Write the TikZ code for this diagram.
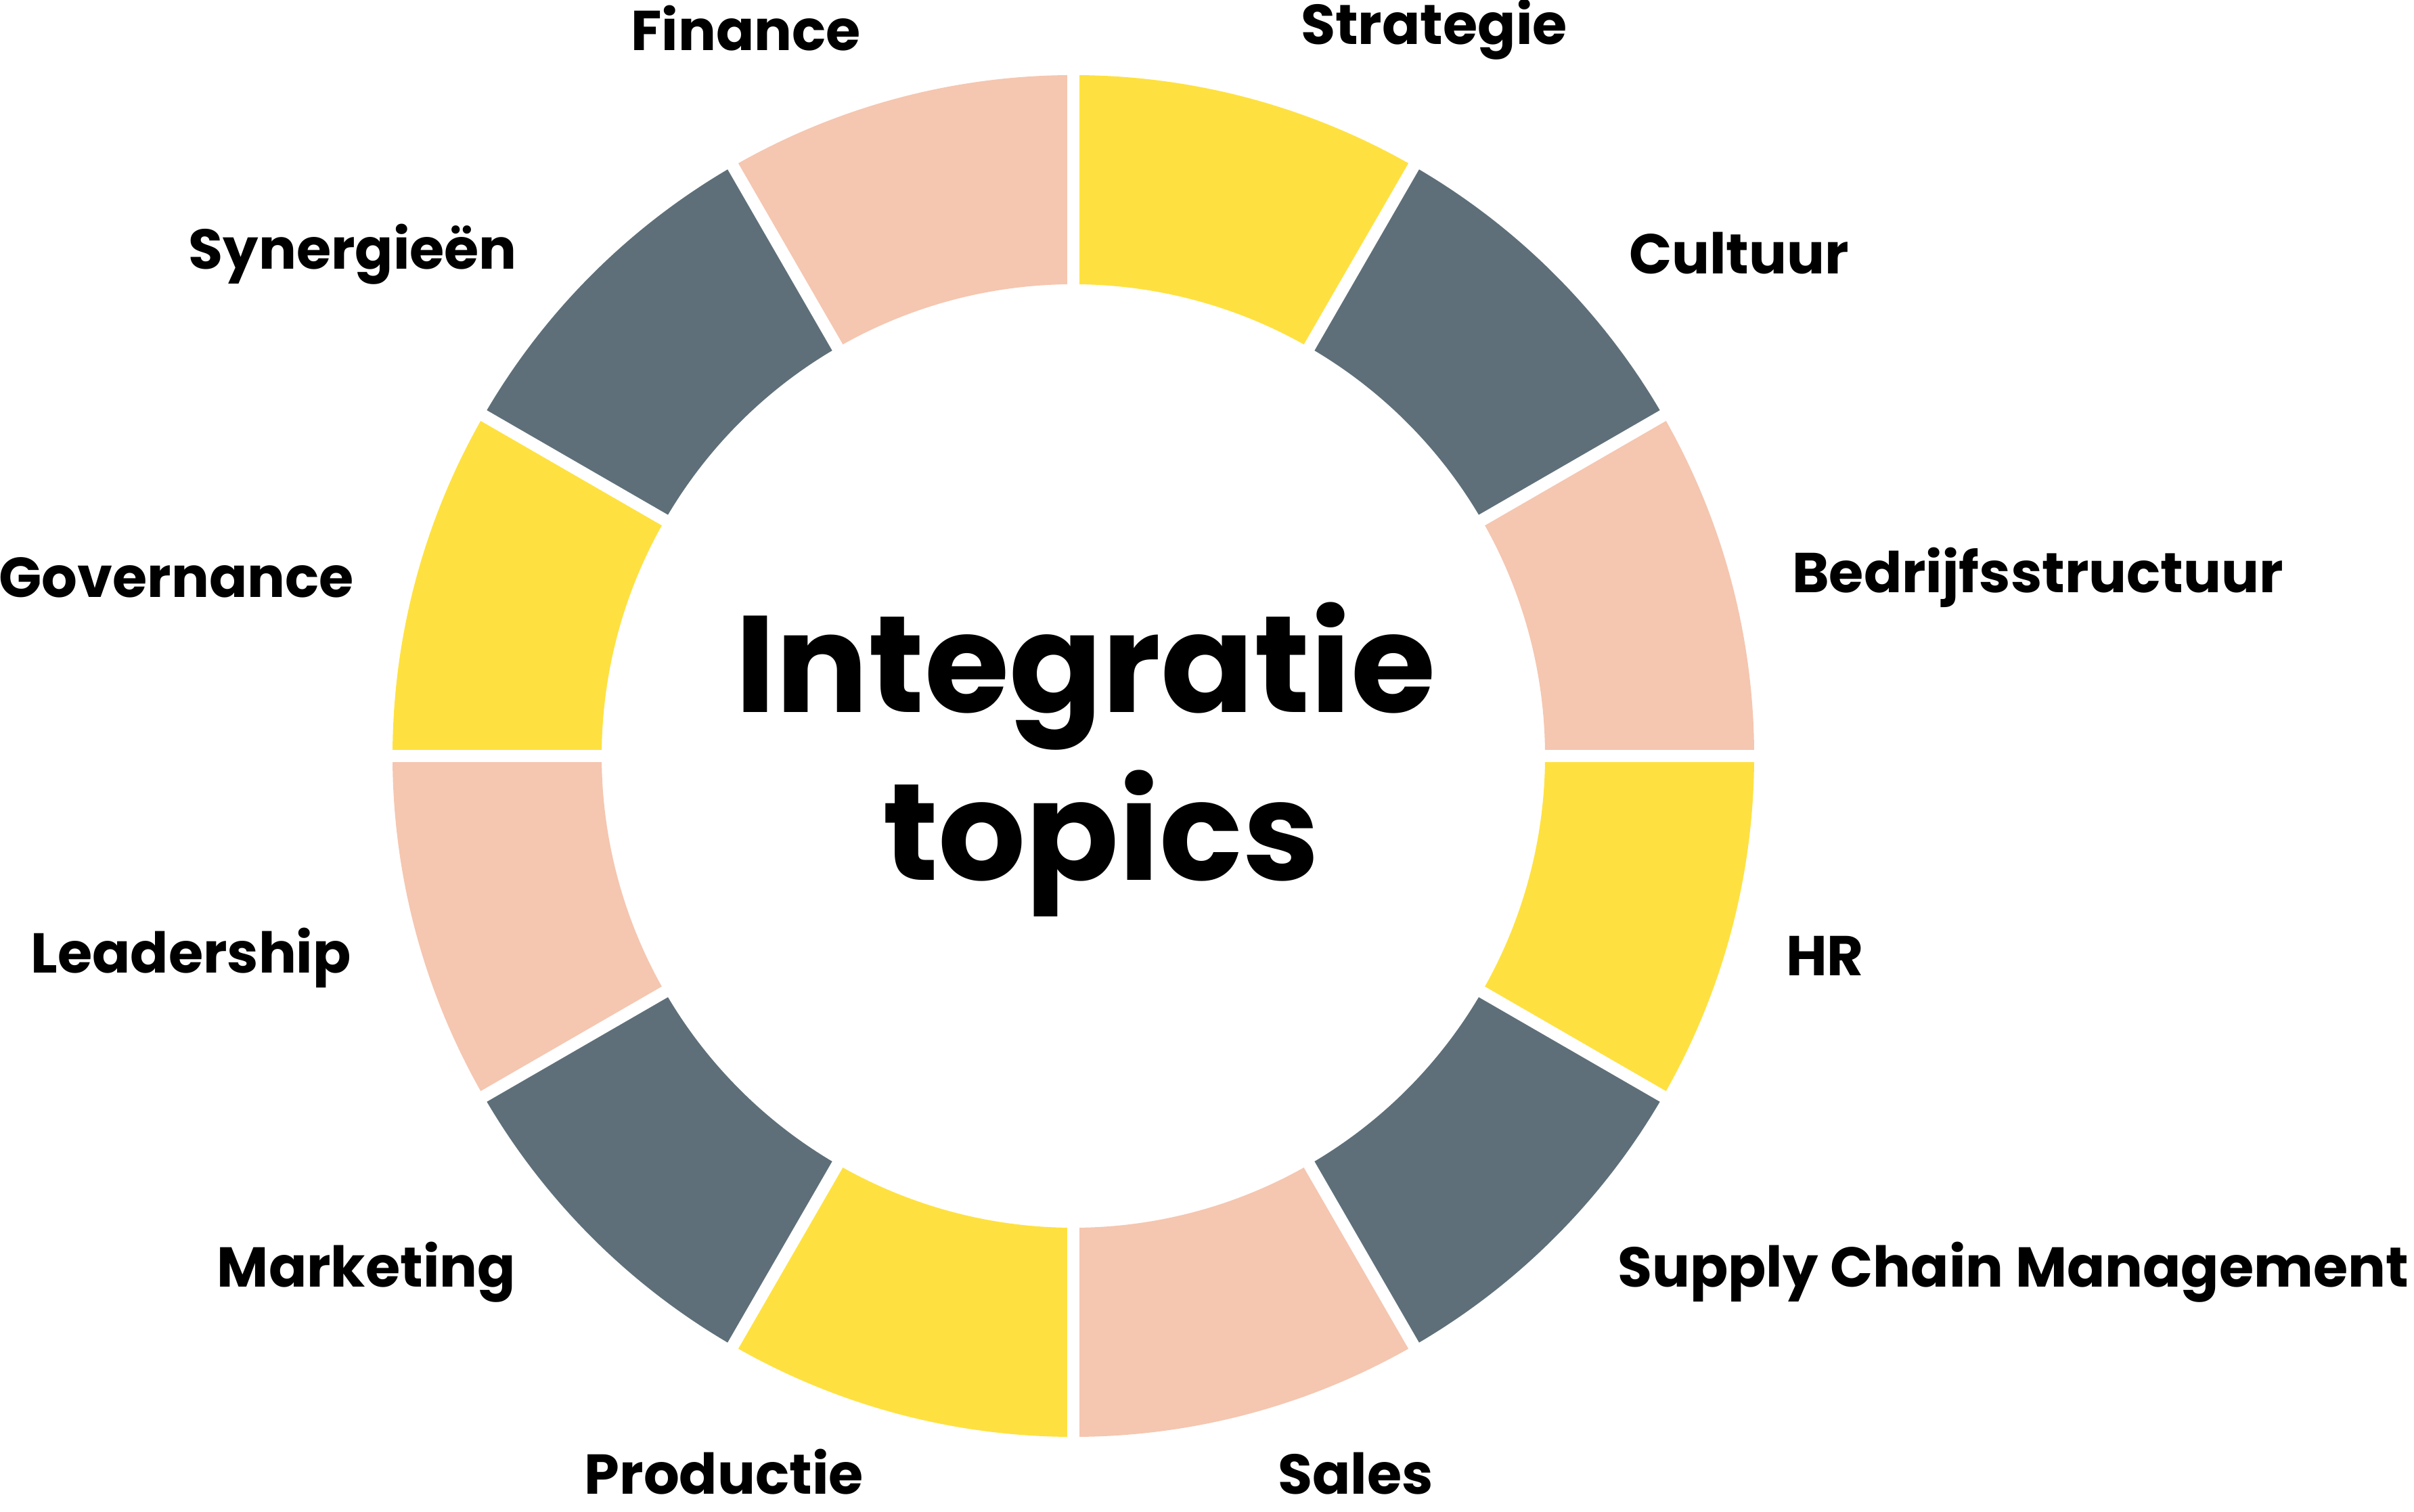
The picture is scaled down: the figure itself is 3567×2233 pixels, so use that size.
\documentclass[tikz,border=0pt]{standalone}
\usepackage{fontspec}
\setmainfont{Poppins}
\definecolor{cyellow}{HTML}{FEE140}
\definecolor{cgray}{HTML}{5E6F79}
\definecolor{cpeach}{HTML}{F5C6B0}
\begin{document}
\begin{tikzpicture}[x=1pt,y=1pt,
  lbl/.style={inner sep=0pt,font=\fontsize{83}{92}\selectfont\bfseries},
  lblL/.style={lbl,anchor=base east},
  lblR/.style={lbl,anchor=base west},
  title/.style={inner sep=0pt,anchor=base,font=\fontsize{203}{240}\selectfont\bfseries}]
\useasboundingbox (0,0) rectangle (3567,2233);
\def\Ro{1006}\def\Ri{697}
\begin{scope}[shift={(1586,1116)}]
\foreach \a/\c in {60/cyellow,30/cgray,0/cpeach,-30/cyellow,-60/cgray,-90/cpeach,-120/cyellow,-150/cgray,-180/cpeach,150/cyellow,120/cgray,90/cpeach}{
  \pgfmathsetmacro{\b}{\a+30}
  \fill[\c] (\a:\Ri) -- (\a:\Ro) arc[start angle=\a,end angle=\b,radius=\Ro] -- (\b:\Ri) arc[start angle=\b,end angle=\a,radius=\Ri] -- cycle;
}
\foreach \a in {0,30,...,330}{
  \draw[white,line width=18] (0,0) -- (\a:1040);
}
\end{scope}
\node[lblL] (finance) at (1272,2158) {Finance};
\node[lblR] (strategie) at (1922,2167) {Strategie};
\node[lblL] (synergie) at (764,1835) {Synergieën};
\node[lblR] (cultuur) at (2407,1828) {Cultuur};
\node[lblL] (governance) at (523,1350) {Governance};
\node[lblR] (bedrijf) at (2648,1357) {Bedrijfsstructuur};
\node[lblL] (leadership) at (519,795) {Leadership};
\node[lblR] (hr) at (2639,791) {HR};
\node[lblL] (marketing) at (762,331) {Marketing};
\node[lblR] (supply) at (2390,331) {Supply Chain Management};
\node[lblL] (productie) at (1276,26) {Productie};
\node[lblR] (sales) at (1888,26) {Sales};
\node[title] (t1) at (1604,1180) {Integratie};
\node[title] (t2) at (1627,932) {topics};
\end{tikzpicture}
\end{document}
